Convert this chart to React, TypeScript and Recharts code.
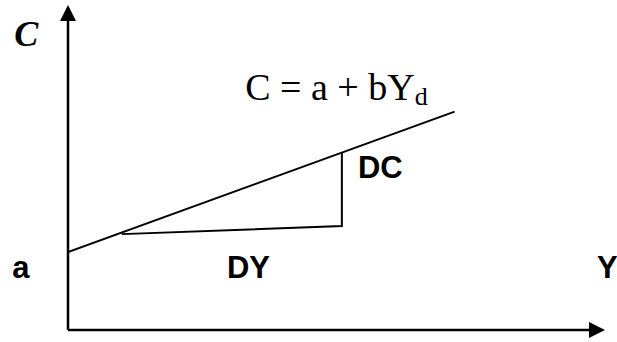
import React from 'react';
import { LineChart, Line, XAxis, YAxis, ReferenceDot, ReferenceLine } from 'recharts';

// income (Y) and consumption (C) in chart units, 0..10 on both axes
const incomeAxis = [0, 10];
const consumptionAxis = [0, 10];

const lineIncome = [0, 7.2];
const lineConsumption = [2.4, 6.72];

// slope triangle: DY leg then DC leg
const triIncome = [1.0, 5.1, 5.1];
const triConsumption = [2.95, 3.2, 5.45];

const consumptionLine = lineIncome.map((y, i) => ({ y, c: lineConsumption[i] }));
const slopeTriangle = triIncome.map((y, i) => ({ y, c: triConsumption[i] }));

const SANS = '"Liberation Sans", Arial, sans-serif';
const SERIF = '"Liberation Serif", "Times New Roman", serif';

// text anchors, in chart units
const labels = [
    { text: 'C', x: -1.0, y: 8.74, family: SERIF, size: 36, italic: true },
    { text: 'DC', x: 5.4, y: 4.68, family: SANS, size: 31, italic: false },
    { text: 'a', x: -1.04, y: 1.6, family: SANS, size: 31, italic: false },
    { text: 'DY', x: 2.96, y: 1.6, family: SANS, size: 31, italic: false },
    { text: 'Y', x: 9.85, y: 1.6, family: SANS, size: 31, italic: false },
];

const ArrowRight = (p: any) => (
    <polygon points={`${p.cx},${p.cy} ${p.cx - 16},${p.cy - 8} ${p.cx - 16},${p.cy + 8}`} fill="#000" />
);

const ArrowUp = (p: any) => (
    <polygon points={`${p.cx},${p.cy} ${p.cx - 8},${p.cy + 16} ${p.cx + 8},${p.cy + 16}`} fill="#000" />
);

const App: React.FC = () => {
    return (
        <div style={{ position: 'absolute', left: 0, top: 0, background: '#fff' }}>
            <LineChart width={617} height={342} margin={{ top: 5, right: 12, bottom: 12, left: 68 }}>
                <XAxis dataKey="y" type="number" domain={incomeAxis} allowDataOverflow hide />
                <YAxis type="number" domain={consumptionAxis} allowDataOverflow hide />
                <ReferenceLine
                    segment={[{ x: incomeAxis[0], y: consumptionAxis[0] }, { x: incomeAxis[1] - 0.1, y: consumptionAxis[0] }]}
                    stroke="#000"
                    strokeWidth={2.5}
                    ifOverflow="visible"
                />
                <ReferenceLine
                    segment={[{ x: incomeAxis[0], y: consumptionAxis[0] }, { x: incomeAxis[0], y: consumptionAxis[1] - 0.2 }]}
                    stroke="#000"
                    strokeWidth={2.5}
                    ifOverflow="visible"
                />
                <Line
                    data={consumptionLine}
                    dataKey="c"
                    stroke="#000"
                    strokeWidth={2}
                    dot={false}
                    isAnimationActive={false}
                />
                <Line
                    data={slopeTriangle}
                    dataKey="c"
                    stroke="#000"
                    strokeWidth={2}
                    dot={false}
                    isAnimationActive={false}
                />
                <ReferenceDot x={incomeAxis[1]} y={consumptionAxis[0]} ifOverflow="visible" shape={ArrowRight} />
                <ReferenceDot x={incomeAxis[0]} y={consumptionAxis[1]} ifOverflow="visible" shape={ArrowUp} />
                {labels.map((l) => (
                    <ReferenceDot
                        key={l.text}
                        x={l.x}
                        y={l.y}
                        ifOverflow="visible"
                        shape={(p: any) => (
                            <text
                                x={p.cx}
                                y={p.cy}
                                fontFamily={l.family}
                                fontSize={l.size}
                                fontWeight="bold"
                                fontStyle={l.italic ? 'italic' : 'normal'}
                                fill="#000"
                            >
                                {l.text}
                            </text>
                        )}
                    />
                ))}
                <ReferenceDot
                    x={3.3}
                    y={7.08}
                    ifOverflow="visible"
                    shape={(p: any) => (
                        <text x={p.cx} y={p.cy} fontFamily={SERIF} fontSize={38} fill="#000" xmlSpace="preserve">
                            {'C = a + bY'}
                            <tspan fontSize={26} dy={5}>d</tspan>
                        </text>
                    )}
                />
            </LineChart>
        </div>
    );
};

export default App;
